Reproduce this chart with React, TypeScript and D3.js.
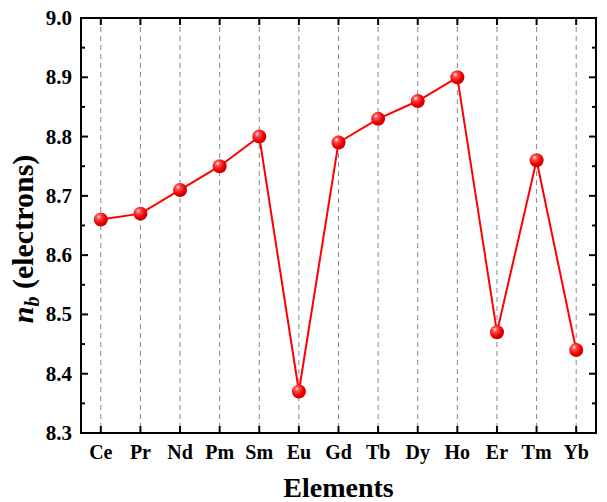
import React from "react";
import * as d3 from "d3";

const elements = ["Ce", "Pr", "Nd", "Pm", "Sm", "Eu", "Gd", "Tb", "Dy", "Ho", "Er", "Tm", "Yb"];
const nbValues = [8.66, 8.67, 8.71, 8.75, 8.8, 8.37, 8.79, 8.83, 8.86, 8.9, 8.47, 8.76, 8.44];
const yTicks = [8.3, 8.4, 8.5, 8.6, 8.7, 8.8, 8.9, 9.0];
const yMinorTicks = [8.35, 8.45, 8.55, 8.65, 8.75, 8.85, 8.95];

export default function App() {
  const W = 607, H = 502;
  const left = 81, right = 596, top = 18, bottom = 433;
  const x = d3.scalePoint<string>().domain(elements).range([left, right]).padding(0.5);
  const y = d3.scaleLinear().domain([8.3, 9.0]).range([bottom, top]);
  const line = d3.line<number>().x((_, i) => x(elements[i])!).y((d) => y(d));
  const font = "'Liberation Serif', 'Times New Roman', serif";
  return (
    <svg width={W} height={H} style={{ position: "absolute", left: 0, top: 0 }}>
      <defs>
        <radialGradient id="ball" cx="0.38" cy="0.35" r="0.65" fx="0.35" fy="0.3">
          <stop offset="0" stopColor="#ffe8e8" />
          <stop offset="0.25" stopColor="#ff5050" />
          <stop offset="0.7" stopColor="#f00000" />
          <stop offset="1" stopColor="#c00000" />
        </radialGradient>
      </defs>
      <rect width={W} height={H} fill="#fff" />
      {elements.map((e) => (
        <line key={"g" + e} x1={x(e)} x2={x(e)} y1={top} y2={bottom} stroke="#888" strokeWidth={1} strokeDasharray="5,4" />
      ))}
      <path d={line(nbValues) || ""} fill="none" stroke="#ff0000" strokeWidth={2} />
      {nbValues.map((v, i) => (
        <circle key={"m" + i} cx={x(elements[i])} cy={y(v)} r={7} fill="url(#ball)" />
      ))}
      {elements.map((e) => (
        <g key={"t" + e}>
          <line x1={x(e)} x2={x(e)} y1={bottom} y2={bottom - 7} stroke="#000" strokeWidth={2} />
          <line x1={x(e)} x2={x(e)} y1={top} y2={top + 7} stroke="#000" strokeWidth={2} />
          <text x={x(e)} y={bottom + 26} textAnchor="middle" fontFamily={font} fontWeight="bold" fontSize={20}>{e}</text>
        </g>
      ))}
      {yTicks.map((t) => (
        <g key={"y" + t}>
          <line x1={left} x2={left + 7} y1={y(t)} y2={y(t)} stroke="#000" strokeWidth={2} />
          <line x1={right} x2={right - 7} y1={y(t)} y2={y(t)} stroke="#000" strokeWidth={2} />
          <text x={left - 9} y={y(t) + 7} textAnchor="end" fontFamily={font} fontWeight="bold" fontSize={21}>{t.toFixed(1)}</text>
        </g>
      ))}
      {yMinorTicks.map((t) => (
        <g key={"ym" + t}>
          <line x1={left} x2={left + 4} y1={y(t)} y2={y(t)} stroke="#000" strokeWidth={2} />
          <line x1={right} x2={right - 4} y1={y(t)} y2={y(t)} stroke="#000" strokeWidth={2} />
        </g>
      ))}
      <rect x={left} y={top} width={right - left} height={bottom - top} fill="none" stroke="#000" strokeWidth={2} />
      <text x={(left + right) / 2} y={497} textAnchor="middle" fontFamily={font} fontWeight="bold" fontSize={28}>Elements</text>
      <text transform={`translate(33, 239) rotate(-90)`} textAnchor="middle" fontFamily={font} fontWeight="bold" fontSize={30}>
        <tspan fontStyle="italic">n</tspan>
        <tspan fontStyle="italic" fontSize={20} dy={6}>b</tspan>
        <tspan dy={-6}> (electrons)</tspan>
      </text>
    </svg>
  );
}
